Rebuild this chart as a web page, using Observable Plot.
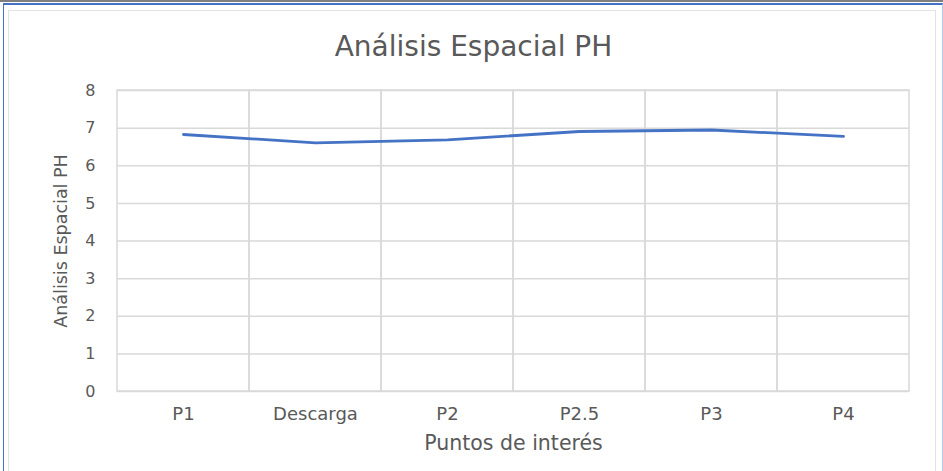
<!DOCTYPE html>
<html>
<head>
<meta charset="utf-8">
<script src="https://cdn.jsdelivr.net/npm/d3@7"></script>
<script src="https://cdn.jsdelivr.net/npm/@observablehq/plot@0.6"></script>
<style>
  html, body { margin: 0; padding: 0; background: #fff; }
  #wrap { position: relative; width: 943px; height: 471px; overflow: hidden; background: #fff; font-family: "DejaVu Sans", sans-serif; }
  #topbar { position: absolute; left: 0; top: 0; width: 943px; height: 2px; background: #7f7f7f; }
  #outer { position: absolute; left: 3px; top: 3px; width: 938px; height: 480px; border-top: 2px solid #4472c4; border-left: 1px solid #4472c4; border-right: 1px solid #b4c7e7; }
  #inner { position: absolute; left: 8px; top: 10px; width: 926px; height: 470px; border: 1px solid #e3e3e3; }
  #title { position: absolute; left: 2px; width: 943px; top: 33px; line-height: 1; text-align: center; font-size: 28px; color: #595959; }
  #chart { position: absolute; left: 0; top: 0; }
</style>
</head>
<body>
<div id="wrap">
  <div id="topbar"></div>
  <div id="outer"></div>
  <div id="inner"></div>
  <div id="chart"></div>
  <div id="title">Análisis Espacial PH</div>
</div>
<script>
const categories = ["P1", "Descarga", "P2", "P2.5", "P3", "P4"];
const phValues = [6.83, 6.61, 6.69, 6.91, 6.95, 6.78];
const yTicks = [0, 1, 2, 3, 4, 5, 6, 7, 8];
const xLabel = "Puntos de interés";
const yLabel = "Análisis Espacial PH";

const data = categories.map((c, i) => ({cat: c, ph: phValues[i]}));

const chart = Plot.plot({
  width: 943,
  height: 471,
  marginLeft: 117,
  marginRight: 34,
  marginTop: 90,
  marginBottom: 80,
  style: {fontFamily: "'DejaVu Sans', sans-serif", fontSize: "16px", color: "#595959", background: "transparent"},
  x: {type: "band", domain: categories, padding: 0, label: null},
  y: {domain: [0, 8], label: null},
  marks: [
    Plot.gridY(yTicks, {stroke: "#d9d9d9", strokeOpacity: 1, strokeWidth: 1.5}),
    Plot.cell(categories, {x: d => d, fill: "none", stroke: "#d9d9d9", strokeWidth: 1.5, inset: 0}),
    Plot.axisY(yTicks, {tickSize: 0, tickPadding: 22, fontSize: 16, fill: "#595959"}),
    Plot.axisX({tickSize: 0, tickPadding: 16, fontSize: 18, fill: "#595959"}),
    Plot.text([xLabel], {frameAnchor: "bottom", dy: 58, fontSize: 20.5, fill: "#595959", text: d => d}),
    Plot.text([yLabel], {frameAnchor: "left", dx: -56, dy: 0, rotate: -90, textAnchor: "middle", fontSize: 17.5, fill: "#595959", text: d => d}),
    Plot.line(data, {x: "cat", y: "ph", stroke: "#4472c4", strokeWidth: 2.8})
  ]
});
document.getElementById("chart").appendChild(chart);
</script>
</body>
</html>
